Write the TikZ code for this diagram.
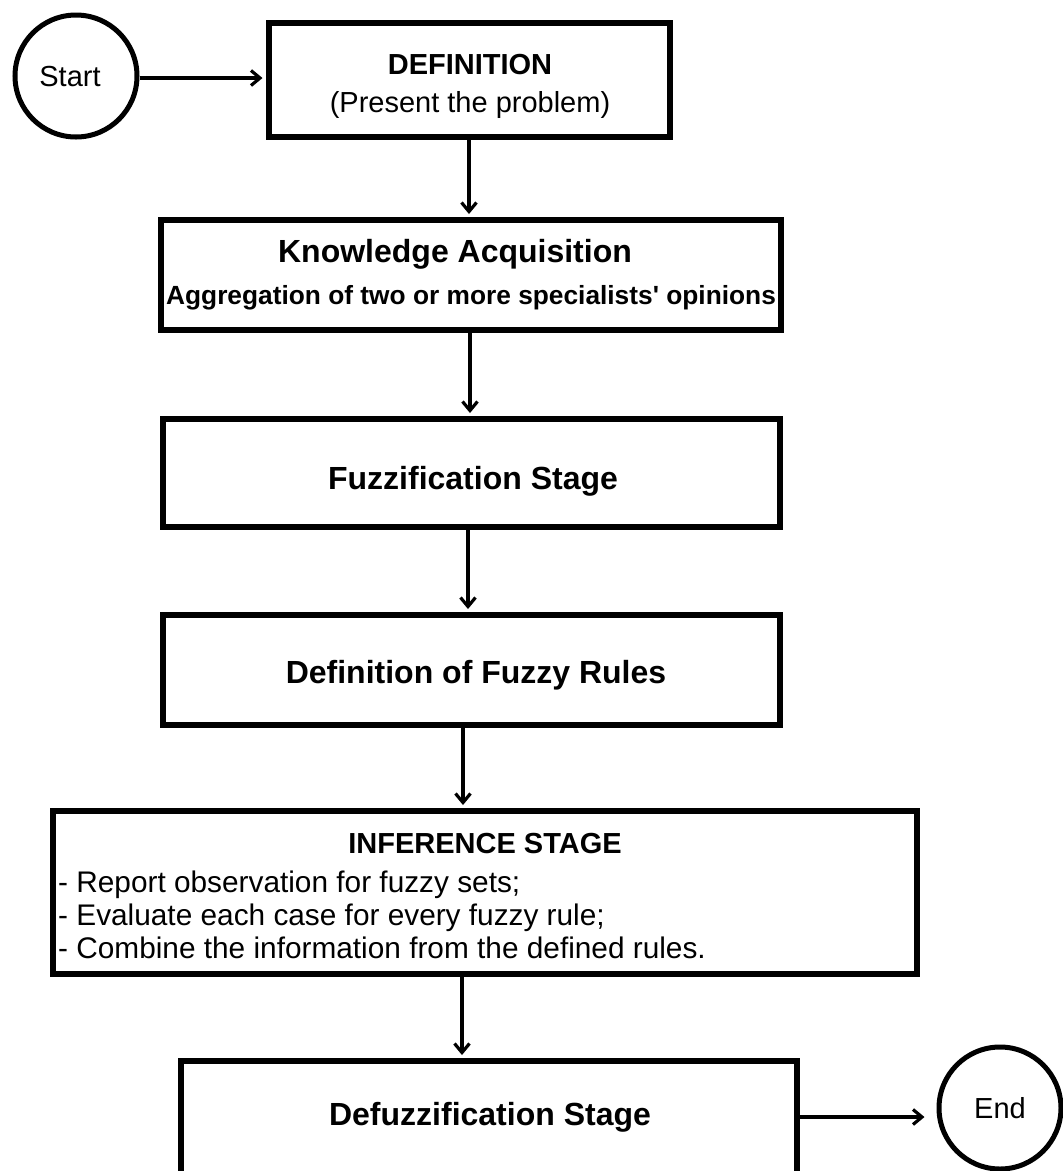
\documentclass[tikz,border=0pt]{standalone}
\usepackage{fontspec}
\setmainfont{Liberation Sans}
% plain family without TeX ligatures, so the apostrophe stays straight
\newfontfamily\plainsans{Liberation Sans}
\usetikzlibrary{arrows.meta}
\begin{document}
\begin{tikzpicture}[x=1pt,y=-1pt,
  stage/.style={draw, line width=6pt, rectangle, inner sep=0pt},
  terminal/.style={draw, line width=5pt, circle, inner sep=0pt, minimum size=122pt},
  caption/.style={inner sep=0pt, align=center},
  flow/.style={line width=3.2pt, -{Straight Barb[length=9pt,width=15pt,line width=3.2pt]}},
  headline/.style={caption, font=\fontsize{32}{40}\selectfont\bfseries},
  plainline/.style={font=\fontsize{29}{32}\selectfont},
  bodyline/.style={font=\fontsize{29.8}{33}\selectfont}]
\useasboundingbox (0,0) rectangle (1063,1171);

% terminals
\node[terminal] (start) at (76,76) {};
\node[caption, plainline] (starttext) at (70,77) {Start};
\node[terminal] (finish) at (1000,1108) {};
\node[caption, plainline] (endtext) at (1000,1108) {End};

% process stages
\node[stage, minimum width=401pt, minimum height=114pt] (def) at (469,80) {};
\node[caption, font=\fontsize{29}{38}\selectfont] (deftext) at (470,86.5)
  {\textbf{DEFINITION}\\(Present the problem)};

\node[stage, minimum width=620pt, minimum height=110pt] (ka) at (471,275) {};
\node[caption, font=\fontsize{26.3}{42}\selectfont] (katext) at (471,275)
  {{\fontsize{32}{42}\selectfont\bfseries Knowledge Acquisition\hspace*{32pt}}\\
   {\plainsans\bfseries Aggregation of two or more specialists' opinions}};

\node[stage, minimum width=617pt, minimum height=108pt] (fuzz) at (471,473) {};
\node[headline] (fuzztext) at (473,481) {Fuzzification Stage};

\node[stage, minimum width=617pt, minimum height=110pt] (rules) at (471.5,670) {};
\node[headline] (rulestext) at (476,675) {Definition of Fuzzy Rules};

\node[stage, minimum width=864pt, minimum height=163pt] (inf) at (485,892.5) {};
\node[caption, font=\fontsize{29}{33}\selectfont\bfseries] (inftitle) at (485,844)
  {INFERENCE STAGE};
\node[bodyline, align=left, anchor=west, inner sep=0pt] (infbody) at (58,915)
  {- Report observation for fuzzy sets;\\
   - Evaluate each case for every fuzzy rule;\\
   - Combine the information from the defined rules.};

\node[stage, minimum width=616pt, minimum height=116pt] (defuzz) at (489,1119) {};
\node[headline] (defuzztext) at (490,1117) {Defuzzification Stage};

% connector lanes
\coordinate (l1) at (469,0);
\coordinate (l2) at (470,0);
\coordinate (l3) at (468,0);
\coordinate (l4) at (463,0);
\coordinate (l5) at (462,0);
\coordinate (lstart) at (0,78);
\coordinate (lend) at (0,1117);

% connectors
\draw[flow, shorten >=3pt] (start.east |- lstart) -- (def.west |- lstart);
\draw[flow, shorten >=3pt] (def.south -| l1) -- (ka.north -| l1);
\draw[flow, shorten >=3pt] (ka.south -| l2) -- (fuzz.north -| l2);
\draw[flow, shorten >=3pt] (fuzz.south -| l3) -- (rules.north -| l3);
\draw[flow, shorten >=3pt] (rules.south -| l4) -- (inf.north -| l4);
\draw[flow, shorten >=3pt] (inf.south -| l5) -- (defuzz.north -| l5);
\draw[flow, shorten >=12pt] (defuzz.east |- lend) -- (finish.west |- lend);
\end{tikzpicture}
\end{document}
